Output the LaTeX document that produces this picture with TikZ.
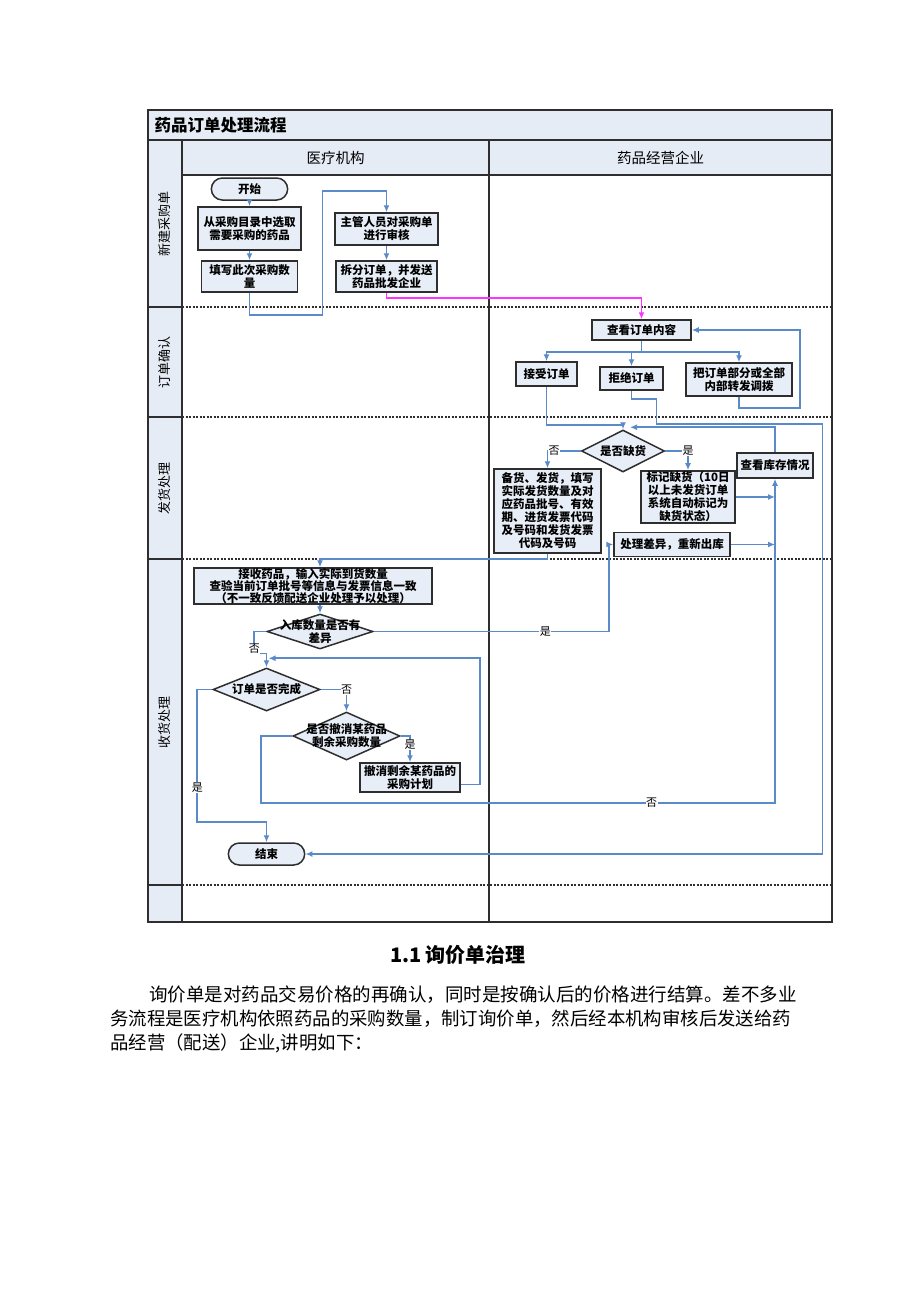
\documentclass[tikz,border=0pt]{standalone}
\usepackage{fontspec}
\setmainfont{Noto Sans CJK SC}
\usepackage{xcolor}
\usepackage{tikz}
\usetikzlibrary{shapes.geometric, arrows, arrows.meta, positioning}
\usetikzlibrary {shapes.misc}
\definecolor{laneblue}{HTML}{E6ECF5}
\definecolor{boxblue}{HTML}{E8EEF7}
\definecolor{flowblue}{HTML}{5B8AC9}
\definecolor{mag}{HTML}{FF33FF}
\definecolor{dgray}{HTML}{2E2E2E}
\newcommand\boxfont{\bfseries\fontsize{11.5}{13}\selectfont}
\newcommand\ynfont{\fontsize{11}{12}\selectfont}
\tikzstyle{startstop} = [rounded rectangle, 
minimum width=83pt, 
minimum height=22pt,
text centered, 
draw=dgray, line width=1.5pt,
font=\boxfont,
fill=boxblue]
\tikzstyle{process} = [rectangle, 
text centered, 
align=center,
inner sep=1pt,
draw=dgray, line width=1.5pt,
font=\boxfont,
fill=boxblue]
\tikzstyle{decision} = [diamond, 
inner sep=0pt,
draw=dgray, line width=1.5pt,
fill=boxblue]
\tikzstyle{dtext} = [font=\boxfont, align=center]
\tikzstyle{arrow} = [line width=1.7pt, draw=flowblue, ->, >={Latex[length=7pt,width=6pt]}]
\tikzstyle{marrow} = [line width=1.7pt, draw=mag, ->, >={Latex[length=7pt,width=6pt]}]
\tikzstyle{yn} = [fill=white, inner sep=0.5pt, font=\ynfont]
\tikzstyle{lane} = [line width=1.2pt, draw=dgray]
\tikzstyle{rowline} = [line width=1.1pt, draw=dgray, dash pattern=on 2pt off 1.5pt]
\tikzstyle{rowlabel} = [rotate=90, font=\fontsize{13}{15}\selectfont]

\begin{document}
\begin{tikzpicture}[x=1pt, y=-1pt, node distance=48pt]
\useasboundingbox[fill=white] (0,0) rectangle (920,1302);

% swimlane frame
\fill[laneblue] (148,110) rectangle (832,140);
\fill[laneblue] (148,140) rectangle (182,922);
\fill[laneblue] (182,140) rectangle (832,175);
\foreach \y in {307,417,559,885}
  \draw[rowline] (182,\y) -- (832,\y);
\foreach \y in {307,417,559,885}
  \draw[lane] (148,\y) -- (182,\y);
\draw[lane] (148,140) -- (832,140);
\draw[lane] (182,175) -- (832,175);
\draw[lane] (182,140) -- (182,922);
\draw[lane] (489,140) -- (489,922);
\draw[line width=1.8pt, draw=dgray] (148,110) rectangle (832,922);

\node (title) [anchor=west, font=\bfseries\fontsize{16.5}{18}\selectfont] at (151,125) {药品订单处理流程};
\node (hospital) [font=\fontsize{14.5}{16}\selectfont] at (335.5,157.5) {医疗机构};
\node (supplier) [font=\fontsize{14.5}{16}\selectfont] at (660.5,157.5) {药品经营企业};
\node (row1) [rowlabel] at (165,223.5) {新建采购单};
\node (row2) [rowlabel] at (165,362) {订单确认};
\node (row3) [rowlabel] at (165,488) {发货处理};
\node (row4) [rowlabel] at (165,722) {收货处理};

% nodes
\node (kaishi) [startstop, xshift=249.5pt, yshift=-189pt] {开始};
\node (xuanqu) [process, below of=kaishi, yshift=8.5pt, minimum width=103pt, minimum height=43pt] {从采购目录中选取\\需要采购的药品};
\node (tianxie) [process, below of=xuanqu, minimum width=96pt, minimum height=31pt] {填写此次采购数\\量};
\node (shenhe) [process, xshift=386.5pt, yshift=-229pt, minimum width=103pt, minimum height=32pt] {主管人员对采购单\\进行审核};
\node (chaifen) [process, below of=shenhe, yshift=0.5pt, minimum width=101pt, minimum height=31pt] {拆分订单，并发送\\药品批发企业};
\node (chakan) [process, xshift=641.5pt, yshift=-330pt, minimum width=99pt, minimum height=20pt] {查看订单内容};
\node (jieshou) [process, below of=chakan, xshift=-95pt, yshift=4pt, minimum width=61pt, minimum height=24pt] {接受订单};
\node (jujue) [process, below of=chakan, xshift=-10pt, yshift=-0.5pt, minimum width=63pt, minimum height=23pt] {拒绝订单};
\node (zhuanfa) [process, below of=chakan, xshift=97.5pt, yshift=-1.5pt, minimum width=106pt, minimum height=33pt] {把订单部分或全部\\内部转发调拨};
\node (quehuo) [decision, xshift=623pt, yshift=-451pt, minimum width=83pt, minimum height=42pt,
  label={[dtext]center:是否缺货}] {};
\node (beihuo) [process, below of=quehuo, xshift=-75.5pt, yshift=-12pt, minimum width=107pt, minimum height=84pt] {备货、发货，填写\\实际发货数量及对\\应药品批号、有效\\期、进货发票代码\\及号码和发货发票\\代码及号码};
\node (biaoji) [process, below of=quehuo, xshift=65pt, yshift=2pt, minimum width=94pt, minimum height=52pt] {标记缺货（10日\\以上未发货订单\\系统自动标记为\\缺货状态）};
\node (kucun) [process, xshift=775pt, yshift=-465.5pt, minimum width=76pt, minimum height=25pt] {查看库存情况};
\node (chuli) [process, below of=biaoji, xshift=-16pt, yshift=0.5pt, minimum width=116pt, minimum height=24pt] {处理差异，重新出库};
\node (daohuo) [process, xshift=313pt, yshift=-586pt, minimum width=238pt, minimum height=36pt, inner ysep=0pt,
  font=\bfseries\fontsize{11.5}{12}\selectfont] {接收药品，输入实际到货数量\\查验当前订单批号等信息与发票信息一致\\（不一致反馈配送企业处理予以处理）};
\node (chayi) [decision, below of=daohuo, xshift=7pt, yshift=2.5pt, minimum width=106pt, minimum height=35pt,
  label={[dtext]center:入库数量是否有\\差异}] {};
\node (wancheng) [decision, below of=chayi, xshift=-53.5pt, yshift=-10pt, minimum width=107pt, minimum height=43pt,
  label={[dtext]center:订单是否完成}] {};
\node (chexiao) [decision, below of=wancheng, xshift=80pt, yshift=1.5pt, minimum width=107pt, minimum height=48pt,
  label={[dtext]center:是否撤消某药品\\剩余采购数量}] {};
\node (jihua) [process, below of=chexiao, xshift=63.5pt, yshift=6.5pt, minimum width=100pt, minimum height=29pt] {撤消剩余某药品的\\采购计划};
\node (jieshu) [startstop, below of=wancheng, yshift=-116.5pt] {结束};

% connectors
\draw [arrow] (kaishi) -- (xuanqu);
\draw [arrow] (xuanqu) -- (tianxie);
\draw [arrow] (tianxie.south) -- ++(0,22) -- ++(73,0) -- ++(0,-124) -| (shenhe.north);
\draw [arrow] (shenhe) -- (chaifen);
\draw [marrow] (chaifen.south) -- ++(0,5) -| (chakan.north);
\draw [arrow] (chakan.south) -- ++(0,11) -| (jieshou.north);
\draw [arrow] (chakan.south) -- ++(0,11) -| (jujue.north);
\draw [arrow] (chakan.south) -- ++(0,11) -| (zhuanfa.north);
\draw [arrow] (zhuanfa.south) -- ++(0,11) -- ++(61,0) |- (chakan.east);
\draw [arrow] (jieshou.south) -- ++(0,38) -| (quehuo.north);
\draw [arrow] (jujue.south) -- ++(0,8) -- ++(25,0) -- ++(0,25) -- ++(166,0) |- (jieshu.east);
\draw [arrow] (quehuo.west) -| node[yn, pos=0.4] {否} (beihuo.north);
\draw [arrow] (quehuo.east) -| node[yn, pos=0.5] {是} (biaoji.north);
\draw [arrow] (biaoji.east) -- (biaoji.east -| kucun.south);
\draw [arrow] (chuli.east) -- (chuli.east -| kucun.south);
\draw [arrow] (kucun.north) |- ([xshift=7pt,yshift=2pt]quehuo.north);
\draw [arrow] (beihuo.south) -- ++(0,5) -| ([xshift=7pt]daohuo.north);
\draw [arrow] ([xshift=7pt]daohuo.south) -- (chayi.north);
\draw [arrow] (chayi.east) -- node[yn, pos=0.73] {是} ++(235,0) |- (chuli.west);
\draw [arrow] (chayi.west) -- ++(-12,0) -- node[yn, pos=0.8] {否} ++(0,22) -| (wancheng.north);
\draw [arrow] ([yshift=-7pt]jihua.east) -- ++(19,0) |- ([xshift=2pt,yshift=9pt]wancheng.north);
\draw [arrow] (wancheng.west) -- ++(-15,0) -- node[yn, pos=0.74] {是} ++(0,132.5) -| (jieshu.north);
\draw [arrow] (wancheng.east) -| node[yn, pos=0.5] {否} (chexiao.north);
\draw [arrow] (chexiao.east) -| node[yn, pos=0.67] {是} (jihua.north);
\draw [arrow] (chexiao.west) -- ++(-31,0) -- ++(0,67) -| node[yn, pos=0.38] {否} (kucun.south);

% text below the chart
\node (heading) [font=\bfseries\fontsize{20}{24}\selectfont] at (458,955) {1.1 询价单治理};
\node (para1) [anchor=west, inner sep=0pt, font=\fontsize{18.5}{22}\selectfont] at (149,995) {询价单是对药品交易价格的再确认，同时是按确认后的价格进行结算。差不多业};
\node (para2) [anchor=west, inner sep=0pt, font=\fontsize{18.4}{22}\selectfont] at (110,1019) {务流程是医疗机构依照药品的采购数量，制订询价单，然后经本机构审核后发送给药};
\node (para3) [anchor=west, inner sep=0pt, font=\fontsize{18.4}{22}\selectfont] at (110,1043) {品经营（配送）企业,讲明如下：};

\end{tikzpicture}
\end{document}
